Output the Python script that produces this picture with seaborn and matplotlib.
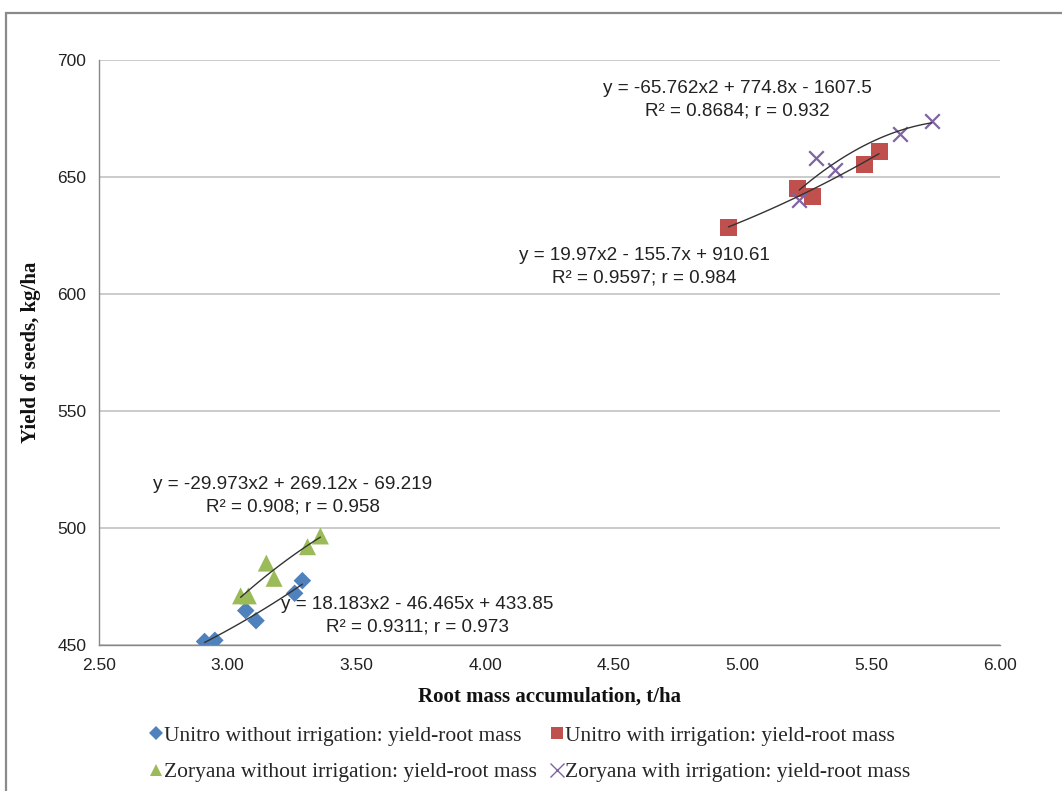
import numpy as np
import pandas as pd
import matplotlib
matplotlib.use("Agg")
import matplotlib.pyplot as plt
from matplotlib.lines import Line2D
from matplotlib.patches import Rectangle
import seaborn as sns

# ---- data ----
unitro_dry_x = [2.91, 2.95, 3.07, 3.11, 3.26, 3.29]
unitro_dry_y = [451.5, 452.0, 464.7, 460.4, 472.1, 477.5]
unitro_irr_x = [4.945, 5.215, 5.27, 5.475, 5.53]
unitro_irr_y = [628.3, 645.0, 641.6, 655.5, 661.0]
zoryana_dry_x = [3.05, 3.08, 3.15, 3.18, 3.31, 3.36]
zoryana_dry_y = [471.0, 471.0, 485.0, 478.5, 492.0, 496.6]
zoryana_irr_x = [5.22, 5.285, 5.36, 5.61, 5.735]
zoryana_irr_y = [640.2, 658.0, 653.0, 668.5, 674.0]

labels = ["Unitro without irrigation: yield-root mass",
          "Unitro with irrigation: yield-root mass",
          "Zoryana without irrigation: yield-root mass",
          "Zoryana with irrigation: yield-root mass"]
equations = ["y = 18.183x2 - 46.465x + 433.85\nR\u00b2 = 0.9311; r = 0.973",
             "y = 19.97x2 - 155.7x + 910.61\nR\u00b2 = 0.9597; r = 0.984",
             "y = -29.973x2 + 269.12x - 69.219\nR\u00b2 = 0.908; r = 0.958",
             "y = -65.762x2 + 774.8x - 1607.5\nR\u00b2 = 0.8684; r = 0.932"]
xticks = [2.5, 3.0, 3.5, 4.0, 4.5, 5.0, 5.5, 6.0]
yticks = [450, 500, 550, 600, 650, 700]

series = [(unitro_dry_x, unitro_dry_y), (unitro_irr_x, unitro_irr_y),
          (zoryana_dry_x, zoryana_dry_y), (zoryana_irr_x, zoryana_irr_y)]
colors = ["#4F81BD", "#C0504D", "#9BBB59", "#8064A2"]
markers = ["D", "s", "^", "x"]
msizes = [80, 150, 150, 110]

sns.set_style("white")
plt.rcParams['font.family'] = ['Liberation Sans', 'DejaVu Sans']

W, H = 1062, 791
fig = plt.figure(figsize=(W / 100, H / 100), dpi=100)
fig.patches.append(Rectangle((6 / W, -0.1), 1.2, 1 - 13 / H + 0.1,
                             transform=fig.transFigure, fill=False,
                             edgecolor="#8a8a8a", linewidth=1.6))
ax = fig.add_axes([99 / W, 1 - 645 / H, (1000 - 99) / W, (645 - 60) / H])

def px2data(px, py):
    return 2.5 + (px - 99) / 257.4, 700 - (py - 60) / 2.34

for (xs, ys), c, m, s in zip(series, colors, markers, msizes):
    df = pd.DataFrame({"x": xs, "y": ys})
    kw = dict(edgecolor="none") if m != "x" else dict(linewidth=1.6)
    sns.scatterplot(data=df, x="x", y="y", ax=ax, color=c, marker=m, s=s,
                    zorder=3, **kw)
    sns.regplot(data=df, x="x", y="y", ax=ax, scatter=False, order=2, ci=None,
                truncate=True, line_kws=dict(color="#333333", lw=1.0, zorder=4))

text_pos = [(417, 604), (644, 255), (293, 484), (737, 88)]
for (px, py), t in zip(text_pos, equations):
    dx, dy = px2data(px, py + 12)
    ax.text(dx, dy, t, ha="center", va="center", fontsize=13.6,
            color="#222222", linespacing=1.45, zorder=5)

ax.set_xlim(2.5, 6.0)
ax.set_ylim(450, 700)
ax.set_xticks(xticks)
ax.set_xticklabels([f"{v:.2f}" for v in xticks])
ax.set_yticks(yticks)
ax.tick_params(axis="both", labelsize=12.5, colors="#222222", length=5,
               width=1, direction="out", pad=4)
ax.tick_params(axis="both", color="#888888")
ax.grid(axis="y", color="#bdbdbd", linewidth=1.1)
ax.set_axisbelow(True)
for side in ["top", "right"]:
    ax.spines[side].set_visible(False)
for side in ["left", "bottom"]:
    ax.spines[side].set_color("#888888")
    ax.spines[side].set_linewidth(1.0)

serif = ['Liberation Serif', 'DejaVu Serif']
ax.set_xlabel("Root mass accumulation, t/ha", fontsize=15, fontweight="bold",
              family=serif, labelpad=10, color="#111111")
ax.set_ylabel("Yield of seeds, kg/ha", fontsize=15, fontweight="bold",
              family=serif, labelpad=12, color="#111111")

handles = []
for c, m, lab in zip(colors, markers, labels):
    if m == "x":
        h = Line2D([], [], linestyle="none", marker=m, color=c, markersize=10,
                   markeredgewidth=1.0, label=lab)
    else:
        h = Line2D([], [], linestyle="none", marker=m, color=c,
                   markersize=9 if m != "D" else 7, markeredgewidth=0, label=lab)
    handles.append(h)
order = [0, 2, 1, 3]
leg = fig.legend([handles[i] for i in order], [labels[i] for i in order],
                 ncol=2, loc="center", bbox_to_anchor=(530 / W, 1 - 754 / H),
                 frameon=False, prop=dict(family=serif, size=15.5),
                 handlelength=0.6, handletextpad=0.1, columnspacing=0.6,
                 labelspacing=0.75, borderaxespad=0)

fig.savefig("out.png", dpi=100, facecolor="white")
